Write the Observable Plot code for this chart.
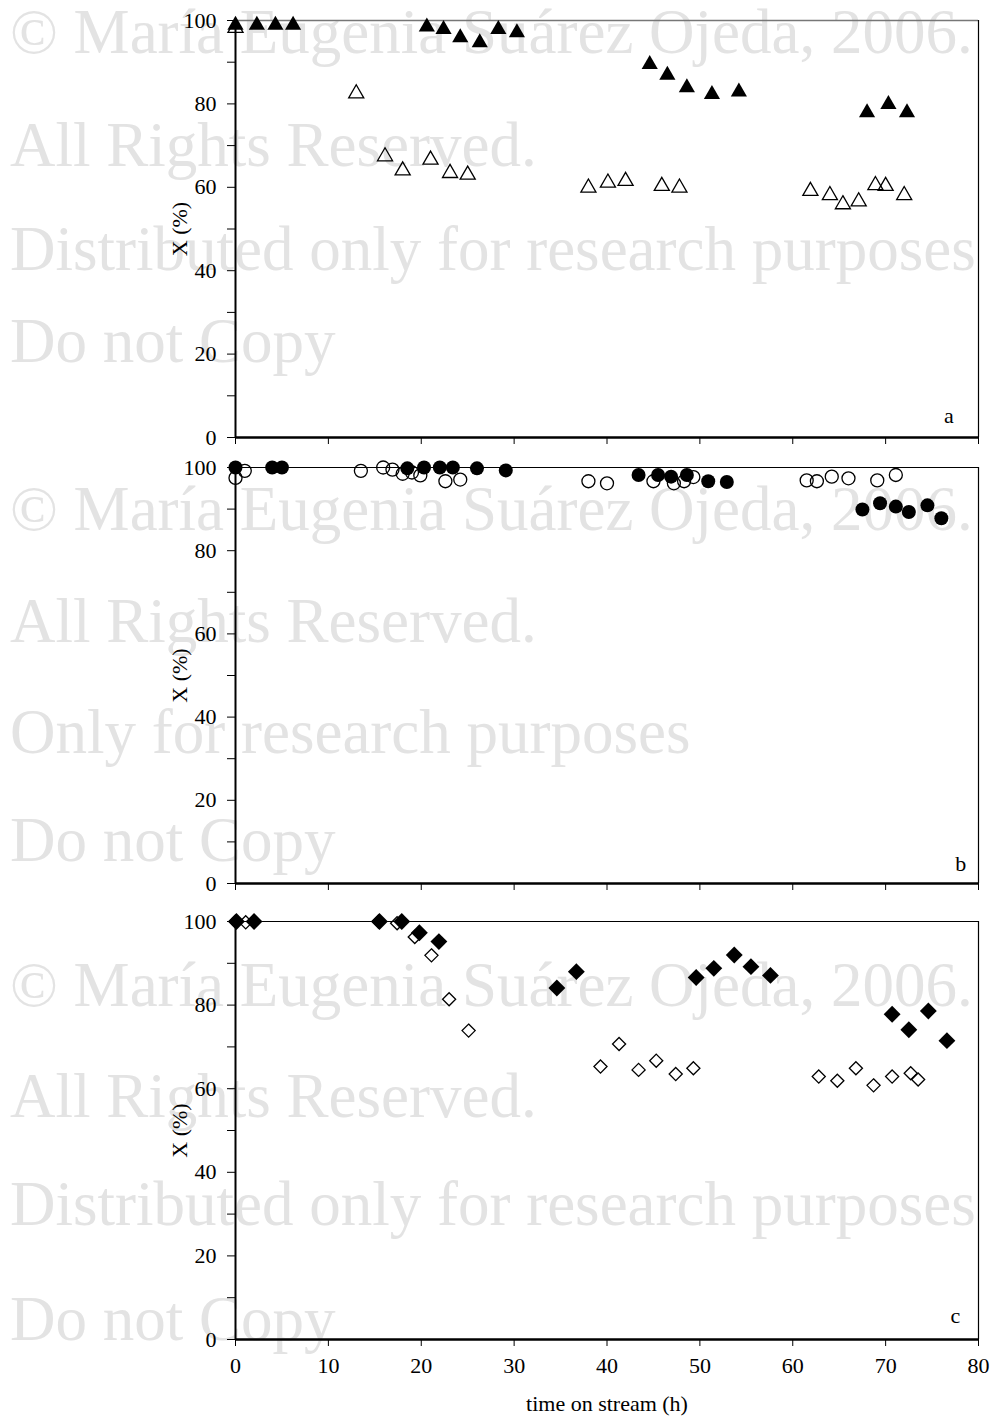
<!DOCTYPE html>
<html><head><meta charset="utf-8">
<script src="https://cdn.jsdelivr.net/npm/d3@7"></script>
<script src="https://cdn.jsdelivr.net/npm/@observablehq/plot@0.6"></script>
<style>
body{margin:0;background:#fff;}
#wrap{position:relative;width:993px;height:1416px;overflow:hidden;background:#fff;}
#wm{position:absolute;left:0;top:0;}
#charts{position:absolute;left:0;top:0;width:993px;}
#charts svg{display:block;}
</style></head><body>
<div id="wrap"><svg id="wm" width="993" height="1416"></svg><div id="charts"></div></div>
<script>
// ---------- data ----------
const xTicks = [0, 10, 20, 30, 40, 50, 60, 70, 80];
const yTicks = [0, 10, 20, 30, 40, 50, 60, 70, 80, 90, 100];
const yLabelEvery = 20;
const xTitle = "time on stream (h)";
const yTitle = "X (%)";
const panelLetters = ["a", "b", "c"];
const letterT = [76.8, 78.1, 77.5];
const letterX = [5.2, 4.6, 5.7];

// panel a (triangles)
const aFilledT = [0, 2.3, 4.3, 6.2, 20.6, 22.4, 24.2, 26.3, 28.3, 30.3, 44.6, 46.5, 48.6, 51.3, 54.2, 68.0, 70.3, 72.3];
const aFilledX = [98.9, 98.9, 98.9, 98.9, 98.5, 97.9, 95.9, 94.7, 97.9, 97.1, 89.5, 86.9, 83.9, 82.3, 82.9, 77.9, 79.9, 77.9];
const aOpenT = [0, 13.0, 16.1, 18.0, 21.0, 23.1, 25.0, 38.0, 40.1, 42.0, 45.9, 47.8, 61.9, 64.0, 65.4, 67.1, 68.9, 70.0, 72.0];
const aOpenX = [98.2, 82.5, 67.4, 64.0, 66.6, 63.4, 63.0, 59.9, 61.1, 61.5, 60.3, 59.9, 59.1, 58.1, 55.9, 56.6, 60.5, 60.3, 58.1];

// panel b (circles)
const bFilledT = [0, 3.95, 5.0, 18.5, 20.3, 22.0, 23.4, 26.0, 29.1, 43.4, 45.5, 46.9, 48.6, 50.9, 52.9, 67.5, 69.4, 71.1, 72.5, 74.5, 76.0];
const bFilledX = [100, 100, 100, 99.8, 100, 100, 100, 99.8, 99.3, 98.2, 98.2, 97.8, 98.2, 96.7, 96.5, 89.9, 91.4, 90.6, 89.3, 90.9, 87.8];
const bOpenT = [0, 1.0, 13.5, 15.9, 16.9, 18.0, 19.0, 19.9, 22.6, 24.2, 38.0, 40.0, 45.0, 47.2, 48.3, 49.3, 61.5, 62.6, 64.2, 66.0, 69.1, 71.1];
const bOpenX = [97.5, 99.2, 99.2, 100, 99.5, 98.5, 98.8, 98.1, 96.7, 97.1, 96.7, 96.2, 96.7, 96.2, 96.7, 97.7, 96.9, 96.7, 97.8, 97.4, 96.9, 98.2];

// panel c (diamonds)
const cFilledT = [0.1, 2.0, 15.5, 17.9, 19.8, 21.9, 34.6, 36.7, 49.6, 51.5, 53.7, 55.5, 57.6, 70.7, 72.5, 74.6, 76.6];
const cFilledX = [100, 100, 100, 100, 97.3, 95.2, 84.1, 88.0, 86.6, 88.8, 92.0, 89.2, 87.1, 77.8, 74.1, 78.6, 71.5];
const cOpenT = [0, 1.1, 15.4, 17.4, 19.3, 21.1, 23.0, 25.1, 39.3, 41.3, 43.4, 45.3, 47.4, 49.3, 62.8, 64.8, 66.8, 68.7, 70.7, 72.7, 73.5];
const cOpenX = [100, 99.8, 100, 99.6, 96.3, 91.9, 81.4, 73.9, 65.3, 70.7, 64.5, 66.7, 63.5, 64.9, 62.9, 61.9, 64.9, 60.8, 62.9, 63.7, 62.2];

// watermark text
const wmLines = [
  "© María Eugenia Suárez Ojeda, 2006.", "All Rights Reserved.", "Distributed only for research purposes", "Do not Copy",
  "© María Eugenia Suárez Ojeda, 2006.", "All Rights Reserved.", "Only for research purposes", "Do not Copy",
  "© María Eugenia Suárez Ojeda, 2006.", "All Rights Reserved.", "Distributed only for research purposes", "Do not Copy"
];
</script>
<script>
const FONT = "'Liberation Serif', 'Times New Roman', Times, serif";
// watermark layer
const wmBase = [53, 166, 270, 362, 530, 642, 753, 861, 1006, 1117, 1225, 1340];
d3.select("#wm").selectAll("text").data(wmLines).join("text")
  .attr("x", 10).attr("y", (d, i) => wmBase[i])
  .attr("font-family", FONT).attr("font-size", 63).attr("fill", "#e3e3e3")
  .text(d => d);

const zip = (T, X) => T.map((t, i) => ({t, x: X[i]}));

function panel(o) {
  return Plot.plot({
    width: 993, height: o.height,
    marginLeft: 235, marginRight: 15, marginTop: o.mt, marginBottom: o.mb,
    x: {domain: [0, 80]}, y: {domain: [0, 100]},
    style: {fontFamily: FONT, fontSize: "22px", background: "transparent", overflow: "visible", color: "black"},
    marks: [
      Plot.ruleY([100], {stroke: o.topStroke, strokeWidth: o.topWidth}),
      Plot.ruleX([80], {stroke: "black", strokeWidth: 1.2}),
      Plot.axisY({ticks: yTicks, tickSize: 8, tickPadding: 11, label: null, fontSize: 22,
        tickFormat: d => d % yLabelEvery === 0 ? String(d) : ""}),
      Plot.axisX({ticks: xTicks, tickSize: 7, tickPadding: 11, label: null, fontSize: 22,
        tickFormat: o.showX ? (d => String(d)) : (() => "")}),
      Plot.ruleX([0], {stroke: "black", strokeWidth: 2}),
      Plot.ruleY([0], {stroke: "black", strokeWidth: 2.5}),
      Plot.text([yTitle], {frameAnchor: "left", textAnchor: "middle", lineAnchor: "middle", rotate: -90, dx: -56, fontSize: 22, fill: "black"}),
      Plot.dot(zip(o.openT, o.openX), {x: "t", y: "x", symbol: o.symbol, r: o.rOpen, fill: "none", stroke: "black", strokeWidth: 1.3}),
      Plot.dot(zip(o.filledT, o.filledX), {x: "t", y: "x", symbol: o.symbol, r: o.rFilled, fill: "black", stroke: "none"}),
      Plot.text([o.idx], {x: i => letterT[i], y: i => letterX[i], text: i => panelLetters[i], fontSize: 22, fill: "black", lineAnchor: "middle"}),
      ...(o.showX ? [Plot.text([xTitle], {frameAnchor: "bottom", dy: 64, fontSize: 22, fill: "black", lineAnchor: "middle"})] : [])
    ]
  });
}

const charts = document.getElementById("charts");
charts.append(panel({idx: 0, height: 450, mt: 20, mb: 13, topStroke: "#777", topWidth: 1.5,
  openT: aOpenT, openX: aOpenX, filledT: aFilledT, filledX: aFilledX, symbol: "triangle", rOpen: 5.6, rFilled: 6.0, showX: false}));
charts.append(panel({idx: 1, height: 447, mt: 17, mb: 14, topStroke: "black", topWidth: 1.2,
  openT: bOpenT, openX: bOpenX, filledT: bFilledT, filledX: bFilledX, symbol: "circle", rOpen: 6.5, rFilled: 7, showX: false}));
charts.append(panel({idx: 2, height: 519, mt: 24, mb: 77, topStroke: "black", topWidth: 1.2,
  openT: cOpenT, openX: cOpenX, filledT: cFilledT, filledX: cFilledX, symbol: "diamond2", rOpen: 5.9, rFilled: 7.6, showX: true}));
</script>
</body></html>
